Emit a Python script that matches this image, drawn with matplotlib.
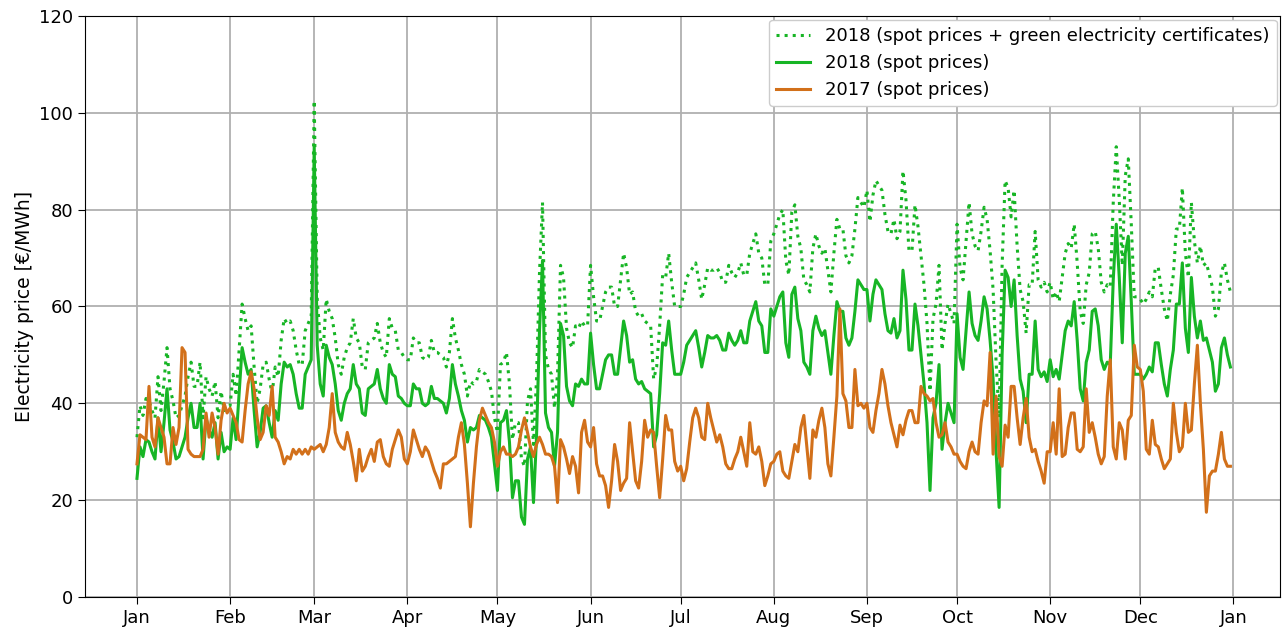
import matplotlib
matplotlib.use("Agg")
import matplotlib.pyplot as plt
import matplotlib.dates as mdates
import numpy as np
import pandas as pd

# daily prices, one list per month (EUR/MWh)
spot_2018 = [
    # Jan
    [24.5, 31, 29, 32.5, 32, 30, 28.5, 37, 30, 36, 43, 34.5, 32, 28.5, 29, 31,
     33, 37, 40, 35, 35, 40, 28.5, 37, 34.5, 33, 36, 28.5, 34, 30, 31],
    # Feb
    [30.5, 37, 32.5, 42, 51.5, 48.5, 46, 47, 38.5, 31, 34, 39, 39.5, 36, 33, 38.5,
     36.5, 44, 48.5, 47.5, 48, 46, 42, 39, 39, 46, 47.5, 49],
    # Mar
    [93, 52, 44, 41.5, 52, 49.5, 48, 44, 38.5, 36.5, 40, 42, 43, 48, 44, 43,
     38, 37.5, 43, 43.5, 44, 47, 43, 41, 40, 48, 46, 45.5, 41.5, 41, 40],
    # Apr
    [39.5, 39.5, 44, 43, 43, 40, 39.5, 40, 43.5, 41, 41, 40.5, 40, 38, 41, 48,
     44, 41.5, 38.5, 36.5, 32, 35, 34.5, 35, 37.5, 37, 36.5, 35, 33, 27.5],
    # May
    [22, 36, 36.5, 38.5, 32, 20.5, 24, 24, 16.5, 15, 28.5, 31, 19.5, 33, 55, 69.5,
     38, 35, 34, 27, 34, 56.5, 54, 43.5, 40.5, 39.5, 44, 43.5, 45, 44, 44],
    # Jun
    [54.5, 48, 43, 43, 46, 49, 50, 50, 46, 46, 51.5, 57, 54, 48.5, 49, 45,
     44, 44.5, 43, 42.5, 42, 31, 33.5, 42, 52.5, 52, 57, 51, 46, 46],
    # Jul
    [46, 48.5, 52, 53, 54, 55, 51.5, 47.5, 50.5, 54, 53.5, 53.5, 54, 53, 51, 51,
     54.5, 53, 52, 53, 55, 52.5, 52.5, 57, 59, 61, 57, 56, 50.5, 50.5, 59.5],
    # Aug
    [58, 60, 62, 63, 52.5, 49.5, 62.5, 64, 57.5, 55, 48.5, 47.5, 46, 55, 58, 55.5,
     54, 55, 50.5, 46, 54, 61, 59, 59, 53.5, 52, 53.5, 59, 65.5, 64.5, 63.5],
    # Sep
    [63.5, 57, 62.5, 65.5, 64.5, 63.5, 58.5, 55, 54.5, 57.5, 53.5, 55, 67.5, 61.5, 51, 51,
     60.5, 56, 50, 44, 36, 22, 37, 40, 48, 30.5, 36, 40, 38, 36],
    # Oct
    [58.5, 49.5, 47, 55, 63, 56.5, 54, 53, 57, 62, 59.5, 53, 45, 30, 18.5, 50,
     67.5, 66, 60, 65.5, 54, 45, 42.5, 36, 46, 46, 57, 47, 45.5, 46.5, 44.5],
    # Nov
    [49, 45.5, 47, 45, 50, 55, 57, 56, 61, 53, 43, 40.5, 48.5, 51, 59, 59.5,
     56, 49, 47, 48.5, 48, 65.5, 77, 66, 52.5, 71, 74.5, 61, 46, 46],
    # Dec
    [46, 45, 46, 47.5, 46.5, 52.5, 52.5, 48, 44, 41.5, 47, 51, 60.5, 60.5, 69, 55.5,
     50.5, 66, 58, 53.5, 57, 53, 53.5, 51, 48.5, 42.5, 44, 51.5, 53.5, 50, 47.5],
]

spot_2017 = [
    # Jan
    [27.5, 33.5, 33, 32.5, 43.5, 33, 31, 37, 35, 33, 27.5, 27.5, 35, 31.5, 35, 51.5,
     50.5, 30.5, 29.5, 29, 29, 29, 30.5, 38, 33, 38, 35, 29.5, 36.5, 40, 38],
    # Feb
    [39, 37.5, 36, 32.5, 32, 38.5, 44, 46.5, 43, 37, 32.5, 34, 39.5, 37.5, 43.5, 33,
     32, 30, 27.5, 29, 28.5, 30.5, 29.5, 30.5, 29.5, 30.5, 29.5, 31],
    # Mar
    [30.5, 31, 31.5, 30, 31.5, 35, 42, 34, 32, 31, 30.5, 34, 31.5, 28, 24, 30.5,
     26, 27, 29, 30.5, 28, 32, 32.5, 29, 27.5, 27, 30.5, 32.5, 34.5, 33, 28.5],
    # Apr
    [27.5, 30, 34.5, 32.5, 30.5, 29, 31, 30, 28, 26, 24.5, 22.5, 27.5, 27.5, 28, 28.5,
     29, 33, 36, 31.5, 23.5, 14.5, 23.5, 31, 36.5, 39, 37.5, 36, 35, 32],
    # May
    [27, 30, 31, 29.5, 29.5, 29, 29.5, 31, 34.5, 37, 34, 31, 29, 31.5, 33, 31.5,
     29.5, 29.5, 29, 27, 19.5, 32.5, 31, 28.5, 25.5, 29, 27, 21.5, 34, 36.5, 32],
    # Jun
    [31, 35, 27.5, 25, 25, 23, 18.5, 24, 31.5, 28, 22, 23.5, 24.5, 36, 30, 24,
     22.5, 28, 36.5, 33, 34.5, 34, 27, 20.5, 28.5, 37.5, 34.5, 34.5, 28, 26],
    # Jul
    [27, 24, 26.5, 32, 37, 39, 37, 33, 32.5, 40, 37, 34.5, 32, 33.5, 31, 27.5,
     26.5, 26.5, 28.5, 30, 33, 30, 27, 36, 30, 29.5, 31, 28, 23, 25, 27.5],
    # Aug
    [28, 29.5, 30, 26, 25, 24.5, 28, 31.5, 30, 35, 37.5, 31, 24.5, 34.5, 33, 36.5,
     39, 35, 27.5, 25, 33, 41.5, 59.5, 42, 40.5, 35, 35, 47, 39.5, 40, 39],
    # Sep
    [40, 35, 34, 38.5, 42, 47, 44, 39.5, 36, 33.5, 31, 35.5, 33.5, 36.5, 38.5, 38.5,
     36, 36, 43.5, 42, 41.5, 40.5, 41, 36, 33, 33.5, 36, 32, 31, 29.5],
    # Oct
    [29.5, 28, 27, 26.5, 30, 32, 30, 29.5, 36, 40.5, 39.5, 50.5, 29.5, 41.5, 29, 27,
     35.5, 33, 43.5, 43.5, 37, 31.5, 37, 41, 33, 30, 30.5, 28, 26, 23.5, 30],
    # Nov
    [30, 36, 29.5, 43, 29, 29.5, 35, 38, 38, 30.5, 30, 31, 43, 34, 36, 33,
     29.5, 27.5, 29, 41.5, 49, 31, 28.5, 36, 34.5, 28.5, 36.5, 37.5, 52, 47.5],
    # Dec
    [47, 42.5, 30.5, 29.5, 36.5, 31.5, 31, 28.5, 26.5, 27.5, 28.5, 40, 34, 30, 31, 40,
     34, 34.5, 44, 52, 40, 30.5, 17.5, 25, 26, 26, 29.5, 34, 28.5, 27, 27],
]

# green certificate price per month (gap between dotted and solid green)
certificates = [8.5, 9, 9.5, 9.5, 12, 14, 14, 17, 20.5, 18.5, 16, 15.5]

days = pd.date_range("2018-01-01", "2018-12-31", freq="D")
spot18 = np.concatenate([np.array(m, dtype=float) for m in spot_2018])
spot17 = np.concatenate([np.array(m, dtype=float) for m in spot_2017])
cert = np.concatenate([np.full(len(m), c) for m, c in zip(spot_2018, certificates)])
green18 = spot18 + cert

green = "#17b525"
orange = "#d2701a"

fig = plt.figure(figsize=(12.88, 6.32), dpi=100)
ax = fig.add_axes([0.066, 0.0554, 0.928, 0.9193])

ax.plot(days, green18, color=green, linestyle=":", linewidth=2.2,
        label="2018 (spot prices + green electricity certificates)")
ax.plot(days, spot18, color=green, linewidth=2.2, label="2018 (spot prices)")
ax.plot(days, spot17, color=orange, linewidth=2.2, label="2017 (spot prices)")

ax.xaxis.set_major_locator(mdates.MonthLocator())
ax.xaxis.set_major_formatter(mdates.DateFormatter("%b"))
start = pd.Timestamp("2018-01-01")
ax.set_xlim(start - pd.Timedelta(days=17.3), pd.Timestamp("2019-01-01") + pd.Timedelta(days=15.6))
ax.set_ylim(0, 120)
ax.set_yticks(range(0, 121, 20))

ax.grid(True, color="#b0b0b0", linewidth=1.3)
ax.set_axisbelow(True)
ax.tick_params(labelsize=13, length=5)
ax.set_ylabel("Electricity price [€/MWh]", fontsize=13.5)

ax.legend(loc="upper right", fontsize=13, framealpha=1, edgecolor="#cccccc",
          handlelength=1.9, borderaxespad=0.2)

fig.savefig("out.png", dpi=100)
